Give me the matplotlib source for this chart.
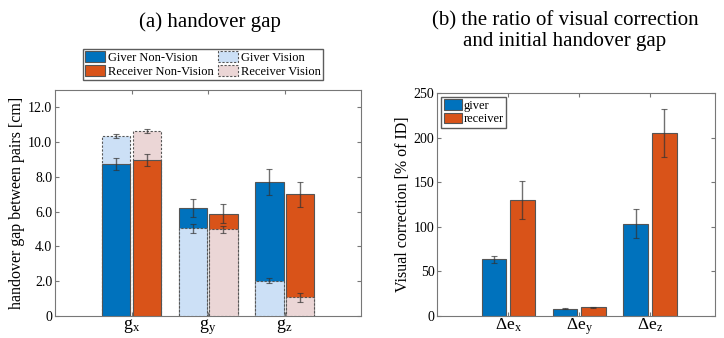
import numpy as np
import matplotlib.pyplot as plt
from matplotlib.patches import Patch

plt.rcParams['font.family'] = ['Liberation Serif', 'DejaVu Serif']
plt.rcParams['mathtext.fontset'] = 'custom'
plt.rcParams['mathtext.rm'] = 'Liberation Serif'

# (a) handover gap [cm]
gap_labels = [r'$\mathregular{g_x}$', r'$\mathregular{g_y}$', r'$\mathregular{g_z}$']
giver_nv = [8.76, 6.20, 7.70]
giver_nv_err = [0.35, 0.52, 0.75]
giver_v = [10.33, 5.05, 2.04]
giver_v_err = [0.12, 0.25, 0.15]
recv_nv = [8.99, 5.88, 6.99]
recv_nv_err = [0.35, 0.55, 0.70]
recv_v = [10.66, 5.00, 1.08]
recv_v_err = [0.12, 0.20, 0.27]
gap_ticks = [0, 2, 4, 6, 8, 10, 12]
gap_ticklabels = ['0', '2.0', '4.0', '6.0', '8.0', '10.0', '12.0']

# (b) visual correction [% of ID]
corr_labels = [r'$\mathregular{\Delta e_x}$', r'$\mathregular{\Delta e_y}$', r'$\mathregular{\Delta e_z}$']
giver_corr = [63.6, 8.2, 103.5]
giver_corr_err = [4.0, 0.8, 16.5]
recv_corr = [130.0, 9.7, 205.0]
recv_corr_err = [21.5, 0.8, 27.0]
corr_ticks = [0, 50, 100, 150, 200, 250]

blue = '#0072BD'
orange = '#D95319'
lblue = '#CCE0F6'
lpink = '#EBD6D6'
edge = '#555555'
ecol = (0.2, 0.2, 0.2, 0.7)

fig = plt.figure(figsize=(7.24, 3.38), dpi=100)
ax1 = fig.add_axes([0.076, 0.065, 0.423, 0.669])
ax2 = fig.add_axes([0.604, 0.065, 0.384, 0.660])

x = np.arange(1, 4)
w = 0.37
off = 0.2


def draw(ax, xpos, h, err, color, dashed):
    # shorter bar sits on top so both stay visible
    z = 3 - h / 100.0
    ls = (0, (2, 1.5)) if dashed else '-'
    ax.bar(xpos, h, w, color=color, edgecolor=edge, linewidth=0.8,
           linestyle=ls, zorder=z)
    ax.errorbar(xpos, h, yerr=err, fmt='none', ecolor=ecol, elinewidth=1.0,
                capsize=2.5, capthick=0.8, zorder=5)


for i in range(3):
    draw(ax1, x[i] - off, giver_nv[i], giver_nv_err[i], blue, False)
    draw(ax1, x[i] - off, giver_v[i], giver_v_err[i], lblue, True)
    draw(ax1, x[i] + off, recv_nv[i], recv_nv_err[i], orange, False)
    draw(ax1, x[i] + off, recv_v[i], recv_v_err[i], lpink, True)

ax1.set_xlim(0, 4)
ax1.set_ylim(0, 13)
ax1.set_xticks(x)
ax1.set_xticklabels(gap_labels, fontsize=13)
ax1.set_yticks(gap_ticks)
ax1.set_yticklabels(gap_ticklabels, fontsize=10)
ax1.set_ylabel('handover gap between pairs [cm]', fontsize=11.5, labelpad=2)

ax2.bar(x - off, giver_corr, 0.35, color=blue, edgecolor=edge, linewidth=0.8,
        label='giver', zorder=2)
ax2.bar(x + off, recv_corr, 0.35, color=orange, edgecolor=edge, linewidth=0.8,
        label='receiver', zorder=2)
ax2.errorbar(x - off, giver_corr, yerr=giver_corr_err, fmt='none', ecolor=ecol,
             elinewidth=1.0, capsize=2.5, capthick=0.8, zorder=5)
ax2.errorbar(x + off, recv_corr, yerr=recv_corr_err, fmt='none', ecolor=ecol,
             elinewidth=1.0, capsize=2.5, capthick=0.8, zorder=5)
ax2.set_xlim(0, 3.92)
ax2.set_ylim(0, 250)
ax2.set_xticks(x)
ax2.set_xticklabels(corr_labels, fontsize=12.5)
ax2.set_yticks(corr_ticks)
ax2.tick_params(axis='y', labelsize=10)
ax2.set_ylabel('Visual correction [% of ID]', fontsize=11.5, labelpad=2)
ax2.legend(loc='upper left', fontsize=9, frameon=True, fancybox=False,
           edgecolor='#333333', handlelength=1.5, handleheight=0.9,
           handletextpad=0.1, borderpad=0.2, labelspacing=0.1,
           borderaxespad=0.3)

for ax in (ax1, ax2):
    ax.tick_params(direction='in', top=True, right=True, length=3,
                   color='#777777', pad=2)
    ax.tick_params(axis='x', pad=0.5)
    for s in ax.spines.values():
        s.set_color('#777777')
        s.set_linewidth(0.8)

handles = [
    Patch(facecolor=blue, edgecolor=edge, linewidth=0.8, label='Giver Non-Vision'),
    Patch(facecolor=orange, edgecolor=edge, linewidth=0.8, label='Receiver Non-Vision'),
    Patch(facecolor=lblue, edgecolor=edge, linewidth=0.8, linestyle=(0, (2, 1.5)),
          label='Giver Vision'),
    Patch(facecolor=lpink, edgecolor=edge, linewidth=0.8, linestyle=(0, (2, 1.5)),
          label='Receiver Vision'),
]
fig.legend(handles=handles, ncol=2, loc='center', bbox_to_anchor=(203 / 724, 1 - 64.5 / 338),
           fontsize=9, frameon=True, fancybox=False, edgecolor='#333333',
           handlelength=1.6, handleheight=0.9, handletextpad=0.2,
           borderpad=0.2, labelspacing=0.1, columnspacing=0.4)

fig.text(210 / 724, 1 - 22 / 338, '(a) handover gap', ha='center', va='center',
         fontsize=15)
fig.text(565 / 724, 1 - 31 / 338, '(b) the ratio of visual correction\nand initial handover gap',
         ha='center', va='center', fontsize=15, linespacing=1.1)

fig.savefig('out.png', dpi=100)
